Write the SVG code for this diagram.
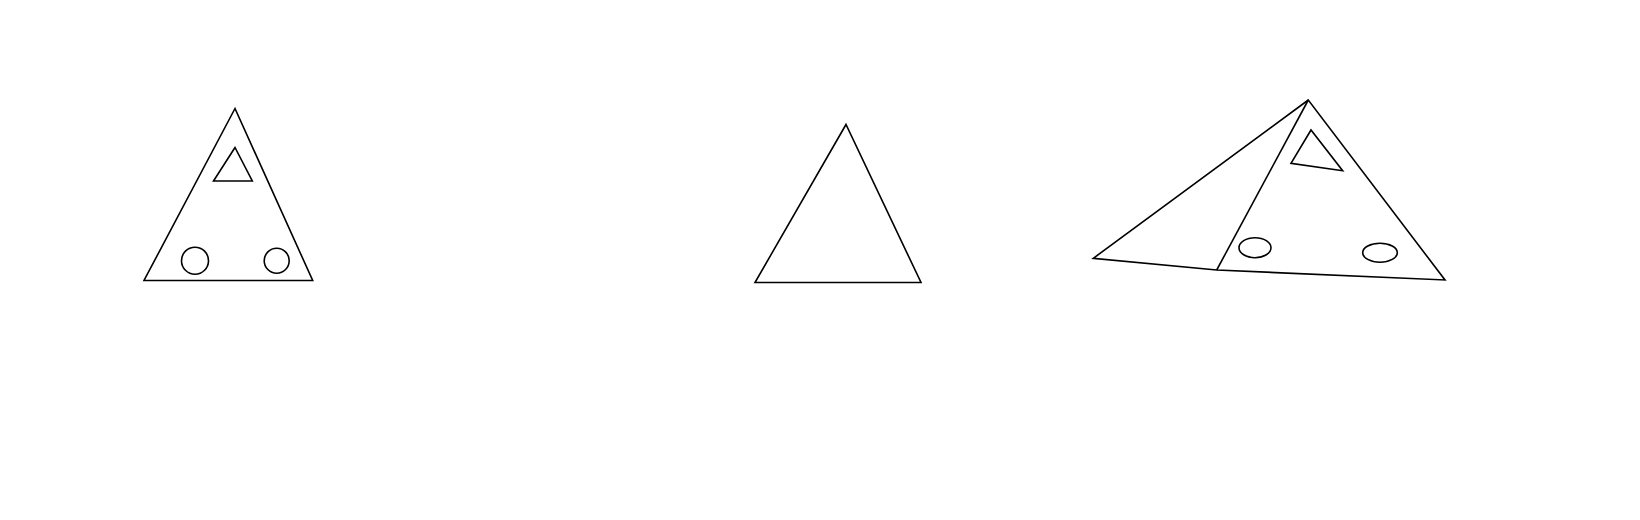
<svg xmlns="http://www.w3.org/2000/svg" width="1640" height="520" viewBox="0 0 1640 520">
<style>
.s{fill:none;stroke:#000;stroke-width:1.6;stroke-linejoin:miter}
</style>
<rect width="1640" height="520" fill="#fff"/>
<g id="fig1">
<polygon class="s" points="235,108.5 144,280.5 312.7,280.5"/>
<polygon class="s" points="235,147.5 213.5,181 252.3,181"/>
<circle class="s" cx="195" cy="260.7" r="13.5"/>
<circle class="s" cx="276.7" cy="260.7" r="12.5"/>
</g>
<g id="fig2">
<polygon class="s" points="846,124.5 755,282.5 921,282.5"/>
</g>
<g id="fig3">
<polygon class="s" points="1308.3,100 1093.3,258.3 1216.7,270 1445,280"/>
<line class="s" x1="1308.3" y1="100" x2="1216.7" y2="270"/>
<polygon class="s" points="1311,130 1291,163.3 1342.7,170.7"/>
<ellipse class="s" cx="1255" cy="247.7" rx="16" ry="10"/>
<ellipse class="s" cx="1380" cy="252.7" rx="17.3" ry="9.5"/>
</g>
</svg>
